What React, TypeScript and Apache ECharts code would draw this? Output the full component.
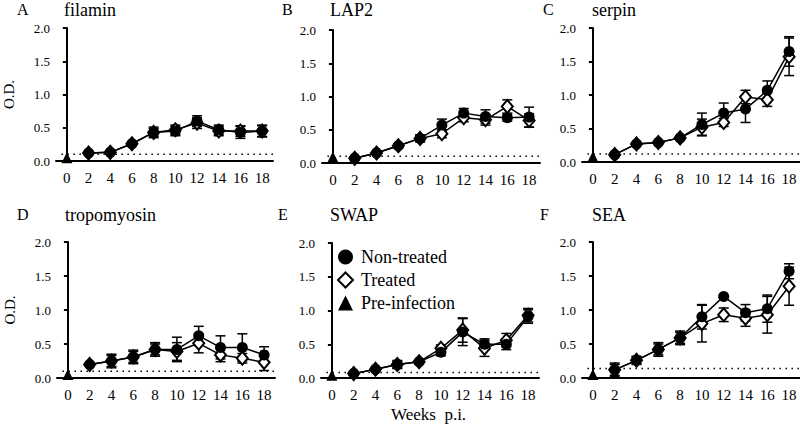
import React, { useEffect, useRef } from "react";
import * as echarts from "echarts";

const weeks = [2, 4, 6, 8, 10, 12, 14, 16, 18];
const xTicks = [0, 2, 4, 6, 8, 10, 12, 14, 16, 18];
const yTicks = [0, 0.5, 1, 1.5, 2];

const panelLetters = ["A", "B", "C", "D", "E", "F"];
const panelTitles = ["filamin", "LAP2", "serpin", "tropomyosin", "SWAP", "SEA"];

const filaminNon = [0.12, 0.13, 0.26, 0.43, 0.45, 0.6, 0.47, 0.43, 0.45];
const filaminNonErr = [0.02, 0.02, 0.03, 0.08, 0.07, 0.08, 0.07, 0.09, 0.09];
const filaminTrt = [0.12, 0.13, 0.26, 0.43, 0.47, 0.57, 0.45, 0.45, 0.45];
const filaminTrtErr = [0.02, 0.02, 0.03, 0.06, 0.07, 0.08, 0.07, 0.08, 0.08];

const lap2Non = [0.07, 0.15, 0.26, 0.37, 0.57, 0.75, 0.7, 0.68, 0.69];
const lap2NonErr = [0.02, 0.02, 0.03, 0.05, 0.09, 0.07, 0.1, 0.05, 0.15];
const lap2Trt = [0.07, 0.15, 0.26, 0.37, 0.44, 0.68, 0.65, 0.85, 0.64];
const lap2TrtErr = [0.02, 0.02, 0.03, 0.05, 0.06, 0.06, 0.08, 0.1, 0.1];

const serpinNon = [0.11, 0.27, 0.29, 0.36, 0.56, 0.73, 0.79, 1.07, 1.65];
const serpinNonErr = [0.02, 0.02, 0.02, 0.03, 0.17, 0.15, 0.2, 0.14, 0.22];
const serpinTrt = [0.11, 0.27, 0.29, 0.36, 0.52, 0.59, 0.97, 0.93, 1.57];
const serpinTrtErr = [0.02, 0.02, 0.02, 0.03, 0.12, 0.06, 0.1, 0.1, 0.28];

const tropoNon = [0.2, 0.25, 0.31, 0.42, 0.42, 0.62, 0.45, 0.45, 0.34];
const tropoNonErr = [0.02, 0.1, 0.1, 0.1, 0.18, 0.14, 0.17, 0.2, 0.12];
const tropoTrt = [0.2, 0.25, 0.31, 0.42, 0.39, 0.51, 0.34, 0.29, 0.23];
const tropoTrtErr = [0.02, 0.08, 0.08, 0.08, 0.13, 0.14, 0.1, 0.07, 0.12];

const swapNon = [0.065, 0.13, 0.2, 0.24, 0.38, 0.68, 0.5, 0.5, 0.91];
const swapNonErr = [0.02, 0.02, 0.06, 0.03, 0.05, 0.2, 0.08, 0.08, 0.1];
const swapTrt = [0.065, 0.13, 0.2, 0.24, 0.44, 0.71, 0.44, 0.56, 0.93];
const swapTrtErr = [0.02, 0.02, 0.05, 0.03, 0.05, 0.18, 0.12, 0.1, 0.1];

const seaNon = [0.12, 0.26, 0.42, 0.59, 0.9, 1.2, 0.96, 1.02, 1.57];
const seaNonErr = [0.1, 0.06, 0.1, 0.1, 0.18, 0.02, 0.12, 0.2, 0.11];
const seaTrt = [0.12, 0.26, 0.42, 0.59, 0.8, 0.93, 0.88, 0.93, 1.35];
const seaTrtErr = [0.08, 0.05, 0.08, 0.08, 0.27, 0.1, 0.12, 0.27, 0.28];

const preInfection = [0.05, 0.09, 0.08, 0.05, 0.04, 0.05];
const cutoffs = [0.1, 0.1, 0.12, 0.1, 0.08, 0.14];

const nonTreated = [filaminNon, lap2Non, serpinNon, tropoNon, swapNon, seaNon];
const nonTreatedErr = [filaminNonErr, lap2NonErr, serpinNonErr, tropoNonErr, swapNonErr, seaNonErr];
const treated = [filaminTrt, lap2Trt, serpinTrt, tropoTrt, swapTrt, seaTrt];
const treatedErr = [filaminTrtErr, lap2TrtErr, serpinTrtErr, tropoTrtErr, swapTrtErr, seaTrtErr];

const SERIF = "Liberation Serif, serif";

const grids = [
  { left: 55, top: 28, width: 218, height: 133 },
  { left: 322, top: 30, width: 218, height: 133 },
  { left: 582, top: 28, width: 218, height: 134 },
  { left: 57, top: 242, width: 218, height: 136 },
  { left: 321, top: 243, width: 218, height: 135 },
  { left: 582, top: 242, width: 218, height: 136 },
];

const titlePos = [
  { lx: 17, tx: 64, y: 9 },
  { lx: 282, tx: 330, y: 9 },
  { lx: 543, tx: 592, y: 9 },
  { lx: 17, tx: 65, y: 214 },
  { lx: 278, tx: 330, y: 214 },
  { lx: 540, tx: 592, y: 214 },
];

function errRender(params: any, api: any) {
  const x = api.value(0);
  const lo = api.value(1);
  const hi = api.value(2);
  const pLo = api.coord([x, lo]);
  const pHi = api.coord([x, hi]);
  const w = 5;
  const style = { stroke: "#000", lineWidth: 1.5 };
  return {
    type: "group",
    children: [
      { type: "line", shape: { x1: pLo[0], y1: pLo[1], x2: pHi[0], y2: pHi[1] }, style },
      { type: "line", shape: { x1: pLo[0] - w, y1: pLo[1], x2: pLo[0] + w, y2: pLo[1] }, style },
      { type: "line", shape: { x1: pHi[0] - w, y1: pHi[1], x2: pHi[0] + w, y2: pHi[1] }, style },
    ],
  };
}

export default function App() {
  const ref = useRef<HTMLDivElement>(null);
  useEffect(() => {
    if (!ref.current) return;
    const chart = echarts.init(ref.current, undefined, { renderer: "svg" });

    const xAxes: any[] = [];
    const yAxes: any[] = [];
    const series: any[] = [];
    const graphics: any[] = [];

    for (let i = 0; i < 6; i++) {
      xAxes.push({
        gridIndex: i,
        type: "value",
        min: -1,
        max: 19,
        splitLine: { show: false },
        axisLine: { show: true, onZero: false, lineStyle: { color: "#000", width: 2 } },
        axisTick: { show: false },
        axisLabel: {
          customValues: xTicks,
          color: "#000",
          fontFamily: SERIF,
          fontSize: 15,
          margin: 9,
        },
      });
      yAxes.push({
        gridIndex: i,
        type: "value",
        min: 0,
        max: 2,
        interval: 0.5,
        splitLine: { show: false },
        axisLine: { show: true, lineStyle: { color: "#000", width: 2 } },
        axisTick: { show: true, length: 4, lineStyle: { color: "#000", width: 2 }, customValues: yTicks },
        axisLabel: {
          color: "#000",
          fontFamily: SERIF,
          fontSize: 13,
          margin: 6,
          formatter: (v: number) => v.toFixed(1),
        },
        name: i === 0 || i === 3 ? "O.D." : "",
        nameLocation: "middle",
        nameGap: 40,
        nameRotate: 90,
        nameTextStyle: { color: "#000", fontFamily: SERIF, fontSize: 15 },
      });

      series.push({
        name: "cutoff",
        type: "line",
        xAxisIndex: i,
        yAxisIndex: i,
        data: [
          [-0.5, cutoffs[i]],
          [19, cutoffs[i]],
        ],
        symbol: "none",
        lineStyle: { color: "#000", width: 1.5, type: [1.5, 4.5] },
        z: 1,
        silent: true,
      });

      series.push({
        name: "err-trt",
        type: "custom",
        xAxisIndex: i,
        yAxisIndex: i,
        renderItem: errRender,
        encode: { x: 0, y: [1, 2] },
        data: weeks.map((w, k) => [w, treated[i][k] - treatedErr[i][k], treated[i][k] + treatedErr[i][k]]),
        z: 2,
        silent: true,
      });
      series.push({
        name: "err-non",
        type: "custom",
        xAxisIndex: i,
        yAxisIndex: i,
        renderItem: errRender,
        encode: { x: 0, y: [1, 2] },
        data: weeks.map((w, k) => [w, nonTreated[i][k] - nonTreatedErr[i][k], nonTreated[i][k] + nonTreatedErr[i][k]]),
        z: 2,
        silent: true,
      });

      series.push({
        name: "Treated",
        type: "line",
        xAxisIndex: i,
        yAxisIndex: i,
        data: weeks.map((w, k) => [w, treated[i][k]]),
        symbol: "diamond",
        symbolSize: [11, 13],
        showAllSymbol: true,
        lineStyle: { color: "#000", width: 1.5 },
        itemStyle: { color: "#fff", borderColor: "#000", borderWidth: 2 },
        z: 3,
      });
      series.push({
        name: "Non-treated",
        type: "line",
        xAxisIndex: i,
        yAxisIndex: i,
        data: weeks.map((w, k) => [w, nonTreated[i][k]]),
        symbol: "circle",
        symbolSize: 11,
        showAllSymbol: true,
        lineStyle: { color: "#000", width: 1.5 },
        itemStyle: { color: "#000", borderColor: "#000", borderWidth: 0 },
        z: 4,
      });
      series.push({
        name: "Pre-infection",
        type: "scatter",
        xAxisIndex: i,
        yAxisIndex: i,
        data: [[0, preInfection[i]]],
        symbol: "triangle",
        symbolSize: [11, 11],
        itemStyle: { color: "#000", opacity: 1 },
        z: 5,
      });

      graphics.push({
        type: "text",
        left: titlePos[i].lx,
        top: titlePos[i].y - 8,
        style: { text: panelLetters[i], fontFamily: SERIF, fontSize: 16, fill: "#000" },
      });
      graphics.push({
        type: "text",
        left: titlePos[i].tx,
        top: titlePos[i].y - 8,
        style: { text: panelTitles[i], fontFamily: SERIF, fontSize: 18, fill: "#000" },
      });
    }

    graphics.push({
      type: "text",
      left: 391,
      top: 406,
      style: { text: "Weeks  p.i.", fontFamily: SERIF, fontSize: 17, fill: "#000" },
    });

    chart.setOption({
      animation: false,
      backgroundColor: "#fff",
      grid: grids.map((g) => ({ ...g, containLabel: false })),
      xAxis: xAxes,
      yAxis: yAxes,
      legend: {
        show: true,
        orient: "vertical",
        left: 337,
        top: 248,
        itemWidth: 15,
        itemHeight: 15,
        itemGap: 5,
        padding: 0,
        textStyle: { color: "#000", fontFamily: SERIF, fontSize: 18, padding: [0, 0, 0, 3] },
        data: [
          { name: "Non-treated", icon: "circle", itemStyle: { color: "#000", borderWidth: 0 } },
          { name: "Treated", icon: "diamond", itemStyle: { color: "#fff", borderColor: "#000", borderWidth: 2 } },
          { name: "Pre-infection", icon: "triangle", itemStyle: { color: "#000" } },
        ],
        selectedMode: false,
      },
      graphic: graphics,
      series,
    });
    return () => chart.dispose();
  }, []);
  return (
    <div
      ref={ref}
      style={{ position: "fixed", left: 0, top: 0, width: 800, height: 433, background: "#fff" }}
    />
  );
}
